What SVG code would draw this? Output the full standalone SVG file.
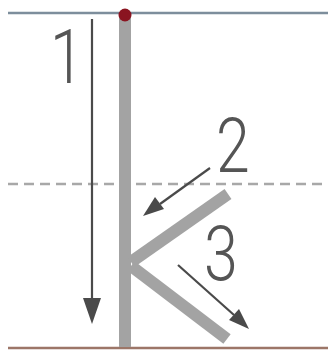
<svg xmlns="http://www.w3.org/2000/svg" width="330" height="355" viewBox="0 0 330 355">
<defs>
<style>
.num{font-family:Roboto,"Liberation Sans",sans-serif;font-weight:300;fill:#555;font-size:76px}
.arr{stroke:#4a4a4a;stroke-width:2.2;fill:none}
.stroke{stroke:#a3a3a3;stroke-width:12;fill:none}
</style>
</defs>
<rect width="330" height="355" fill="#fff"/>
<g id="guides">
<line x1="8" y1="13" x2="328" y2="13" stroke="#7d8e9c" stroke-width="2.5"/>
<line x1="8" y1="184" x2="328" y2="184" stroke="#a8a8a8" stroke-width="2.5" stroke-dasharray="10,6"/>
<line x1="8" y1="348" x2="328" y2="348" stroke="#9c7668" stroke-width="2.5"/>
</g>
<g id="letter">
<line class="stroke" x1="125" y1="15" x2="125" y2="347"/>
<line class="stroke" x1="131" y1="262" x2="228" y2="194"/>
<line class="stroke" x1="131" y1="266" x2="227" y2="339"/>
<circle cx="125" cy="15" r="6.5" fill="#8a1420"/>
</g>
<g id="connectors">
<line class="arr" x1="92" y1="19" x2="92" y2="300"/>
<path d="M83,298 L101,298 L92,324 Z" fill="#4a4a4a"/>
<line class="arr" x1="210" y1="168" x2="160" y2="204"/>
<path d="M143,216 L155,197 L164,209 Z" fill="#4a4a4a"/>
<line class="arr" x1="178" y1="265" x2="234" y2="315"/>
<path d="M249,329 L229,320 L239,309 Z" fill="#4a4a4a"/>
</g>
<g id="labels">
<text class="num" x="50" y="83" transform="translate(50 0) scale(0.8 1) translate(-50 0)">1</text>
<text class="num" x="216" y="172" transform="translate(216 0) scale(0.8 1) translate(-216 0)">2</text>
<text class="num" x="204" y="280" transform="translate(204 0) scale(0.8 1) translate(-204 0)">3</text>
</g>
</svg>
